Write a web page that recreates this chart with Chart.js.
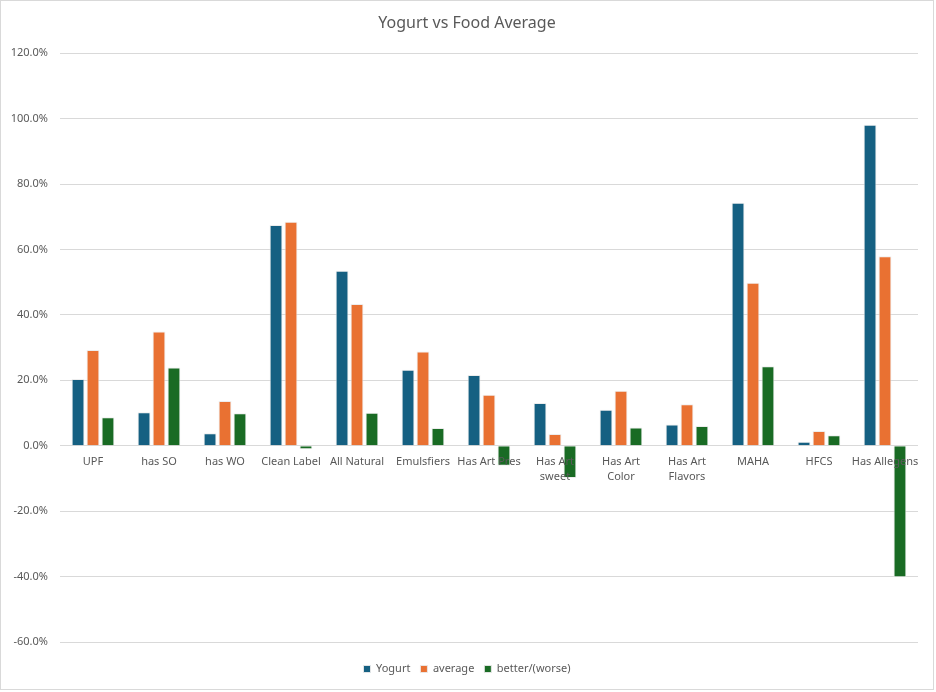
<!DOCTYPE html>
<html>
<head>
<meta charset="utf-8">
<script src="https://cdn.jsdelivr.net/npm/chart.js@4/dist/chart.umd.min.js"></script>
<style>
  body { margin: 0; background: #fff; }
  #wrap { width: 932px; height: 688px; border: 1px solid #d9d9d9; }
</style>
</head>
<body>
<div id="wrap"><canvas id="chart" width="932" height="688"></canvas></div>
<script>
  // category labels (wrapped ones as arrays, like Excel does)
  const categories = [
    'UPF', 'has SO', 'has WO', 'Clean Label', 'All Natural', 'Emulsfiers',
    'Has Art Pres', ['Has Art', 'sweet'], ['Has Art', 'Color'], ['Has Art', 'Flavors'],
    'MAHA', 'HFCS', 'Has Allegens'
  ];

  // values in percent
  const yogurt  = [20.4, 10.2, 3.8, 67.5, 53.5, 23.2, 21.6, 13.1, 11.0, 6.5, 74.3, 1.2, 98.1];
  const average = [29.3, 34.9, 13.7, 68.5, 43.3, 28.8, 15.6, 3.6, 16.8, 12.7, 49.8, 4.5, 57.9];
  const better  = [8.7, 23.9, 9.9, -1.1, 10.1, 5.4, -6.1, -9.9, 5.6, 6.0, 24.3, 3.2, -40.2];

  const seriesNames = ['Yogurt', 'average', 'better/(worse)'];
  const seriesColors = ['#156082', '#E97132', '#196B24'];

  const fontFamily = "'Noto Sans', sans-serif";
  const textColor = '#595959';

  const datasets = [yogurt, average, better].map((vals, i) => ({
    label: seriesNames[i],
    data: vals,
    backgroundColor: seriesColors[i],
    borderColor: 'rgba(235,235,235,0.9)',
    borderWidth: 1,
    categoryPercentage: 0.68,
    barPercentage: 0.86
  }));

  new Chart(document.getElementById('chart').getContext('2d'), {
    type: 'bar',
    data: { labels: categories, datasets: datasets },
    options: {
      responsive: false,
      animation: false,
      layout: { padding: { left: 0, right: 0, top: 0, bottom: 4.5 } },
      plugins: {
        title: {
          display: true,
          text: 'Yogurt vs Food Average',
          color: textColor,
          font: { family: fontFamily, size: 16, weight: 'normal' },
          padding: { top: 13, bottom: 20 }
        },
        legend: {
          position: 'bottom',
          // empty title only used as a spacer above the legend row
          title: { display: true, text: ' ', font: { size: 1 }, padding: { top: 5, bottom: 5.3 } },
          labels: {
            color: textColor,
            font: { family: fontFamily, size: 11 },
            boxWidth: 7,
            boxHeight: 7,
            padding: 10
          }
        },
        tooltip: { enabled: false }
      },
      scales: {
        x: {
          position: { y: 0 },
          grid: { display: false, drawTicks: false },
          border: { display: false },
          ticks: {
            z: 1,
            color: textColor,
            font: { family: fontFamily, size: 11, lineHeight: 1.35 },
            padding: 9,
            maxRotation: 0,
            autoSkip: false
          }
        },
        y: {
          min: -60,
          max: 120,
          grid: { color: '#d9d9d9', drawTicks: false },
          border: { display: false },
          ticks: {
            stepSize: 20,
            color: textColor,
            font: { family: fontFamily, size: 11 },
            padding: 12,
            callback: v => v.toFixed(1) + '%'
          },
          afterFit: scale => { scale.width = 59; }
        },
        // empty right axis: just keeps the plot off the right edge
        // without shifting the centred title and legend
        yRight: {
          position: 'right',
          grid: { display: false, drawTicks: false },
          border: { display: false },
          ticks: { display: false },
          afterFit: scale => { scale.width = 15; }
        }
      }
    }
  });
</script>
</body>
</html>
